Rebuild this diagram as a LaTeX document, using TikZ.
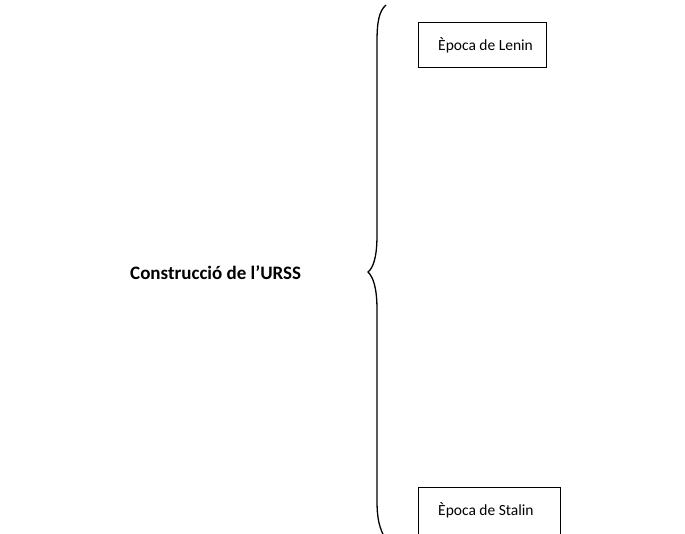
\documentclass[tikz,border=0pt]{standalone}
\usepackage{fontspec}
\setmainfont{Carlito}
\begin{document}
\begin{tikzpicture}[x=1pt,y=-1pt,
  boxst/.style={draw,line width=1pt,anchor=north west,inner sep=0pt},
  txtst/.style={font=\fontsize{15.5}{18}\selectfont,anchor=base west,inner sep=0pt},
  bracest/.style={line width=1.3pt}]
\useasboundingbox (0,0) rectangle (685,533);
\node[font=\bfseries\fontsize{19}{22}\selectfont,anchor=base west,inner sep=0pt] (title) at (130,279) {Construcció de l’URSS};
\node[boxst,minimum width=128pt,minimum height=45pt] (lenin) at (418,22) {};
\node[txtst] (lenintxt) at (438,50) {Època de Lenin};
\node[boxst,minimum width=142pt,minimum height=60pt] (stalin) at (418,487) {};
\node[txtst] (stalintxt) at (438,515) {Època de Stalin};
\draw[bracest] (386,5) .. controls (379,11) and (377,22) .. (377,42)
  -- (377,235) .. controls (377,258) and (373,268) .. (368,272)
  .. controls (373,277) and (377,287) .. (377,310)
  -- (377,500) .. controls (377,518) and (379,528) .. (386,540);
\end{tikzpicture}
\end{document}
